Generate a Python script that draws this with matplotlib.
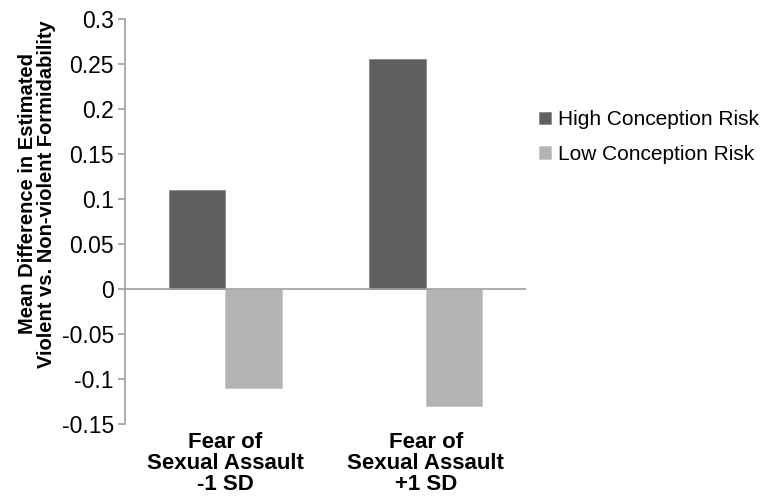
import numpy as np
import matplotlib
matplotlib.use("Agg")
import matplotlib.pyplot as plt

categories = ["Fear of\nSexual Assault\n-1 SD", "Fear of\nSexual Assault\n+1 SD"]
series_names = ["High Conception Risk", "Low Conception Risk"]
high_risk = [0.11, 0.256]
low_risk = [-0.11, -0.13]
y_ticks = [-0.15, -0.1, -0.05, 0, 0.05, 0.1, 0.15, 0.2, 0.25, 0.3]
y_tick_labels = ["-0.15", "-0.1", "-0.05", "0", "0.05", "0.1", "0.15", "0.2", "0.25", "0.3"]

plt.rcParams["font.family"] = ["Liberation Sans", "DejaVu Sans"]

fig = plt.figure(figsize=(7.68, 5.0), dpi=100)
ax = fig.add_axes([125 / 768, 1 - 424 / 500, 401 / 768, 405 / 500])

x = np.arange(len(categories))
w = 0.282
ax.bar(x - w / 2, high_risk, w, color="#606060", edgecolor="#8a8a8a", lw=0.6, label=series_names[0])
ax.bar(x + w / 2, low_risk, w, color="#b3b3b3", edgecolor="#c8c8c8", lw=0.6, label=series_names[1])

ax.set_xlim(-0.5, 1.5)
ax.set_ylim(-0.15, 0.3)
ax.axhline(0, color="#a0a0a0", lw=1.2)
ax.set_yticks(y_ticks)
ax.set_yticklabels(y_tick_labels, fontsize=16.5)
ax.set_xticks(x)
ax.set_xticklabels(categories, fontsize=16, fontweight="bold", linespacing=1.0)
ax.tick_params(axis="x", length=0, pad=6)
ax.tick_params(axis="y", length=5, color="#a0a0a0", width=1.2, pad=3)
for s in ["top", "right", "bottom"]:
    ax.spines[s].set_visible(False)
ax.spines["left"].set_color("#a0a0a0")
ax.spines["left"].set_linewidth(1.2)

ax.set_ylabel("Mean Difference in Estimated\nViolent vs. Non-violent Formidability",
              fontsize=14.5, fontweight="bold", linespacing=1.0)
ax.yaxis.set_label_coords(-0.172, 0.568)

leg = fig.legend(loc="upper left", bbox_to_anchor=(531 / 768, 1 - 102 / 500), frameon=False,
                 fontsize=15, handlelength=0.55, handleheight=0.55, handletextpad=0.35,
                 labelspacing=0.75, borderaxespad=0)

fig.savefig("out.png", dpi=100)
